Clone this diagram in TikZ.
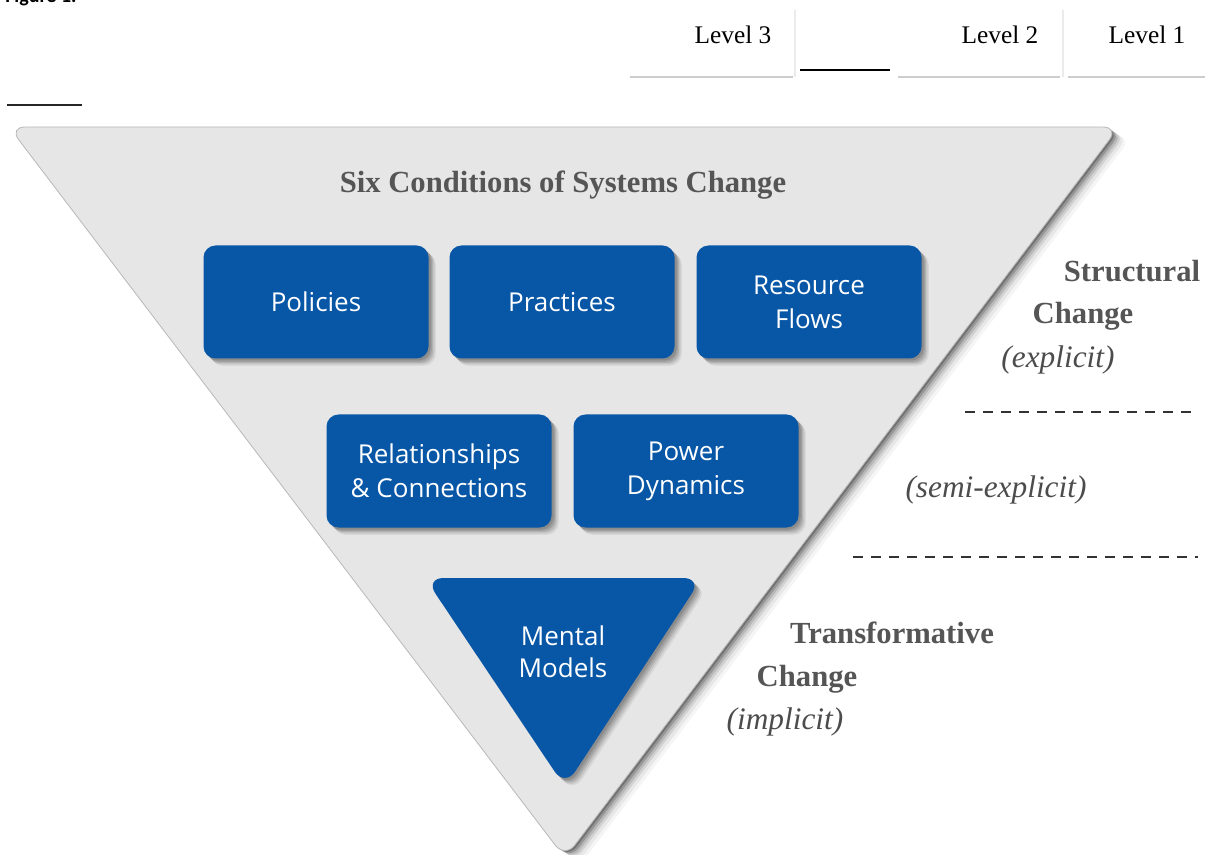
\documentclass[tikz,border=0pt]{standalone}
\usepackage{fontspec}
\setmainfont{Liberation Serif}
\newfontfamily\boxfont{Open Sans}
\newfontfamily\figfont{Carlito}
\usetikzlibrary{shadows}
\definecolor{myblue}{RGB}{8,86,166}
\definecolor{trigrey}{RGB}{230,230,230}
\definecolor{labgrey}{RGB}{85,85,85}
\definecolor{rulegrey}{RGB}{205,205,205}
\tikzset{
  softshadow/.style={
    drop shadow={shadow xshift=1.5pt,shadow yshift=-1.5pt,opacity=0.12,fill=black},
    drop shadow={shadow xshift=2.5pt,shadow yshift=-2.5pt,opacity=0.10,fill=black},
    drop shadow={shadow xshift=3.5pt,shadow yshift=-3.5pt,opacity=0.10,fill=black},
    drop shadow={shadow xshift=4.5pt,shadow yshift=-4.5pt,opacity=0.08,fill=black},
    drop shadow={shadow xshift=5.5pt,shadow yshift=-5.5pt,opacity=0.06,fill=black}},
  bigshadow/.style={
    drop shadow={shadow xshift=1.5pt,shadow yshift=-1pt,opacity=0.25,fill=black},
    drop shadow={shadow xshift=3pt,shadow yshift=-2pt,opacity=0.18,fill=black},
    drop shadow={shadow xshift=4.5pt,shadow yshift=-3pt,opacity=0.12,fill=black},
    drop shadow={shadow xshift=6pt,shadow yshift=-4pt,opacity=0.09,fill=black},
    drop shadow={shadow xshift=8pt,shadow yshift=-5.5pt,opacity=0.06,fill=black},
    drop shadow={shadow xshift=10pt,shadow yshift=-7pt,opacity=0.04,fill=black}},
  bluebox/.style={rectangle, rounded corners=9pt, fill=myblue, softshadow,
    minimum width=168.75pt, minimum height=84.75pt, inner sep=0pt,
    text=white, align=center, font=\boxfont\fontsize{19.5}{25.5}\selectfont},
  boxlabel/.style={text=white, align=center, inner sep=0pt,
    font=\boxfont\fontsize{19.5}{24}\selectfont},
  boldlab/.style={text=labgrey, inner sep=0pt, anchor=base,
    font=\bfseries\fontsize{23}{28}\selectfont},
  itallab/.style={text=labgrey!90!black, inner sep=0pt, anchor=base,
    font=\itshape\fontsize{23.5}{28}\selectfont},
  levellab/.style={text=black, inner sep=0pt, anchor=base,
    font=\fontsize{19}{23}\selectfont},
  dashrule/.style={draw=black!80, line width=1.4pt, dash pattern=on 7.5pt off 6pt},
  headrule/.style={draw=rulegrey, line width=1.4pt},
  headsep/.style={draw=black!8, line width=0.8pt}
}
\begin{document}
\begin{tikzpicture}[x=0.75pt,y=-0.75pt]
\useasboundingbox (0,0) rectangle (1207,855);
% caption (cut off at top, as in the reference)
\node[anchor=base west, inner sep=0pt, font=\figfont\bfseries\fontsize{15}{18}\selectfont] (fig) at (5,3) {Figure 1.};
% header
\coordinate (h1a) at (630,77); \coordinate (h1b) at (793,77);
\coordinate (h2a) at (898,77); \coordinate (h2b) at (1060,77);
\coordinate (h3a) at (1068,77); \coordinate (h3b) at (1205,77);
\coordinate (bka) at (800,70); \coordinate (bkb) at (890,70);
\coordinate (lfa) at (7,105); \coordinate (lfb) at (82,105);
\coordinate (v1a) at (795,10); \coordinate (v1b) at (795,77);
\coordinate (v2a) at (1063,10); \coordinate (v2b) at (1063,77);
\draw[headrule] (h1a) -- (h1b);
\draw[headrule] (h2a) -- (h2b);
\draw[headrule] (h3a) -- (h3b);
\draw[headsep] (v1a) -- (v1b);
\draw[headsep] (v2a) -- (v2b);
\draw[black, line width=1.5pt] (bka) -- (bkb);
\draw[black!85, line width=1.5pt] (lfa) -- (lfb);
\node[levellab] (lv3) at (733,44) {Level 3};
\node[levellab] (lv2) at (1000,44) {Level 2};
\node[levellab] (lv1) at (1147,44) {Level 1};
% big triangle
\coordinate (tl) at (9,127);
\coordinate (tr) at (1119,127);
\coordinate (bt) at (565,858);
\path[fill=trigrey, draw=black!28, line width=0.6pt, rounded corners=12pt, bigshadow]
  (tl) -- (tr) -- (bt) -- cycle;
\node[boldlab] (title) at (563,193) {Six Conditions of Systems Change};
% boxes
\node[bluebox] (pol) at (316,302) {Policies};
\node[bluebox] (pra) at (562,302) {Practices};
\node[bluebox] (res) at (809,302) {Resource\\Flows};
\node[bluebox] (rel) at (439,471) {Relationships\\\& Connections};
\node[bluebox] (pow) at (686,471) {Power\\Dynamics};
% mental models triangle
\coordinate (ma) at (425,578);
\coordinate (mb) at (702,578);
\coordinate (mc) at (565,787);
\path[fill=myblue, rounded corners=14pt, softshadow] (ma) -- (mb) -- (mc) -- cycle;
\node[boxlabel] (men) at (563,652) {Mental\\Models};
% right labels
\node[boldlab] (st1) at (1132,282) {Structural};
\node[boldlab] (st2) at (1083,324) {Change};
\node[itallab] (ex1) at (1058,368) {(explicit)};
\coordinate (d1a) at (965,412); \coordinate (d1b) at (1198,412);
\draw[dashrule] (d1a) -- (d1b);
\node[itallab] (ex2) at (996,498) {(semi-explicit)};
\coordinate (d2a) at (853,557); \coordinate (d2b) at (1198,557);
\draw[dashrule] (d2a) -- (d2b);
\node[boldlab] (tr1) at (892,643) {Transformative};
\node[boldlab] (tr2) at (807,686) {Change};
\node[itallab] (ex3) at (785,729) {(implicit)};
\end{tikzpicture}
\end{document}
